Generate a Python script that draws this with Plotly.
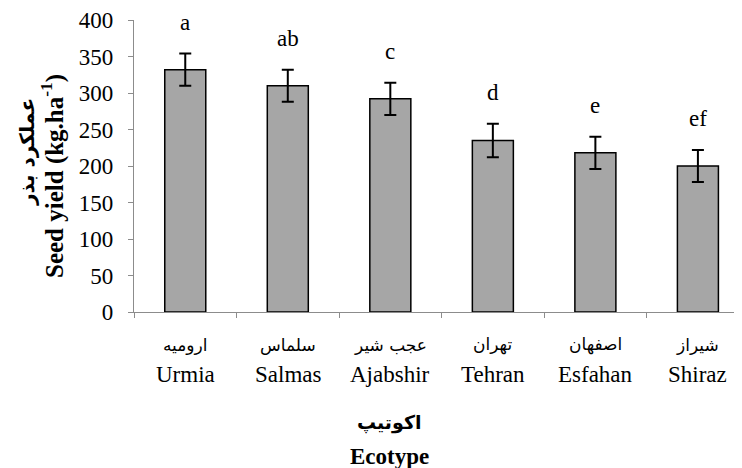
import plotly.graph_objects as go

categories_en = ["Urmia", "Salmas", "Ajabshir", "Tehran", "Esfahan", "Shiraz"]
categories_fa = ["ارومیه", "سلماس", "عجب شیر", "تهران", "اصفهان", "شیراز"]
seed_yield = [332, 310, 292, 235, 218, 200]
error = [22, 22, 22, 23, 22, 22]
letters = ["a", "ab", "c", "d", "e", "ef"]
y_ticks = [0, 50, 100, 150, 200, 250, 300, 350, 400]

# page body has an 8px margin; positions below are in screenshot pixels
OFF = 8
W, H = 742 - OFF, 468 - OFF
PLOT_L, PLOT_T, PLOT_B = 134, 20, 312   # screenshot pixels
L = PLOT_L - OFF
T = PLOT_T - OFF
B = H - (PLOT_B - OFF)
R = 0
PW = W - L - R
PH = H - T - B

def px_x(px):
    return (px - PLOT_L) / PW

def px_y(py):
    return (PLOT_B - py) / PH

SERIF = "Liberation Serif"
FA = "DejaVu Sans"
AX = "#8c8c8c"

fig = go.Figure()
fig.add_trace(go.Bar(
    x=categories_en, y=seed_yield, width=0.4,
    marker=dict(color="#a6a6a6", line=dict(color="black", width=1.5)),
    error_y=dict(type="data", array=error, visible=True, color="black", thickness=2, width=6),
))

ann = []
for c, v, e, t in zip(categories_en, seed_yield, error, letters):
    ann.append(dict(x=c, y=v + e, xref="x", yref="y", text=t, showarrow=False,
                    yanchor="bottom", yshift=17, font=dict(family=SERIF, size=23, color="black")))
for c, fa in zip(categories_en, categories_fa):
    ann.append(dict(x=c, y=px_y(345), xref="x", yref="paper", text=fa, showarrow=False,
                    yanchor="middle", font=dict(family=FA, size=17, color="black")))
    ann.append(dict(x=c, y=px_y(374), xref="x", yref="paper", text=c, showarrow=False,
                    yanchor="middle", font=dict(family=SERIF, size=23, color="black")))
# axis titles
ann.append(dict(x=px_x(389), y=px_y(422), xref="paper", yref="paper", text="<b>اکوتیپ</b>",
                showarrow=False, xanchor="center", yanchor="middle",
                font=dict(family=FA, size=19, color="black")))
ann.append(dict(x=px_x(389), y=px_y(456), xref="paper", yref="paper", text="<b>Ecotype</b>",
                showarrow=False, xanchor="center", yanchor="middle",
                font=dict(family=SERIF, size=23, color="black")))
ann.append(dict(x=px_x(27), y=px_y(152), xref="paper", yref="paper", text="<b>عملکرد بذر</b>",
                showarrow=False, xanchor="center", yanchor="middle", textangle=-90,
                font=dict(family=FA, size=20, color="black")))
ann.append(dict(x=px_x(52), y=px_y(176), xref="paper", yref="paper",
                text="<b>Seed yield (kg.ha<sup>-1</sup>)</b>",
                showarrow=False, xanchor="center", yanchor="middle", textangle=-90,
                font=dict(family=SERIF, size=25, color="black")))

fig.update_layout(
    width=W, height=H,
    margin=dict(l=L, r=R, t=T, b=B, pad=0),
    paper_bgcolor="white", plot_bgcolor="white",
    showlegend=False,
    annotations=ann,
    font=dict(family=SERIF, size=23, color="black"),
)
fig.update_xaxes(
    range=[-0.5, 5.43], showticklabels=False, tickson="boundaries",
    ticks="outside", ticklen=5, tickcolor=AX, showline=True, linecolor=AX, linewidth=1.3,
    showgrid=False, zeroline=False,
)
fig.update_yaxes(
    range=[0, 400], tickvals=y_ticks, ticks="outside", ticklen=5, tickcolor=AX,
    showline=True, linecolor=AX, linewidth=1.3, showgrid=False, zeroline=False,
    tickfont=dict(family=SERIF, size=23, color="black"), ticklabelstandoff=10,
)
fig.write_html("out.html")
